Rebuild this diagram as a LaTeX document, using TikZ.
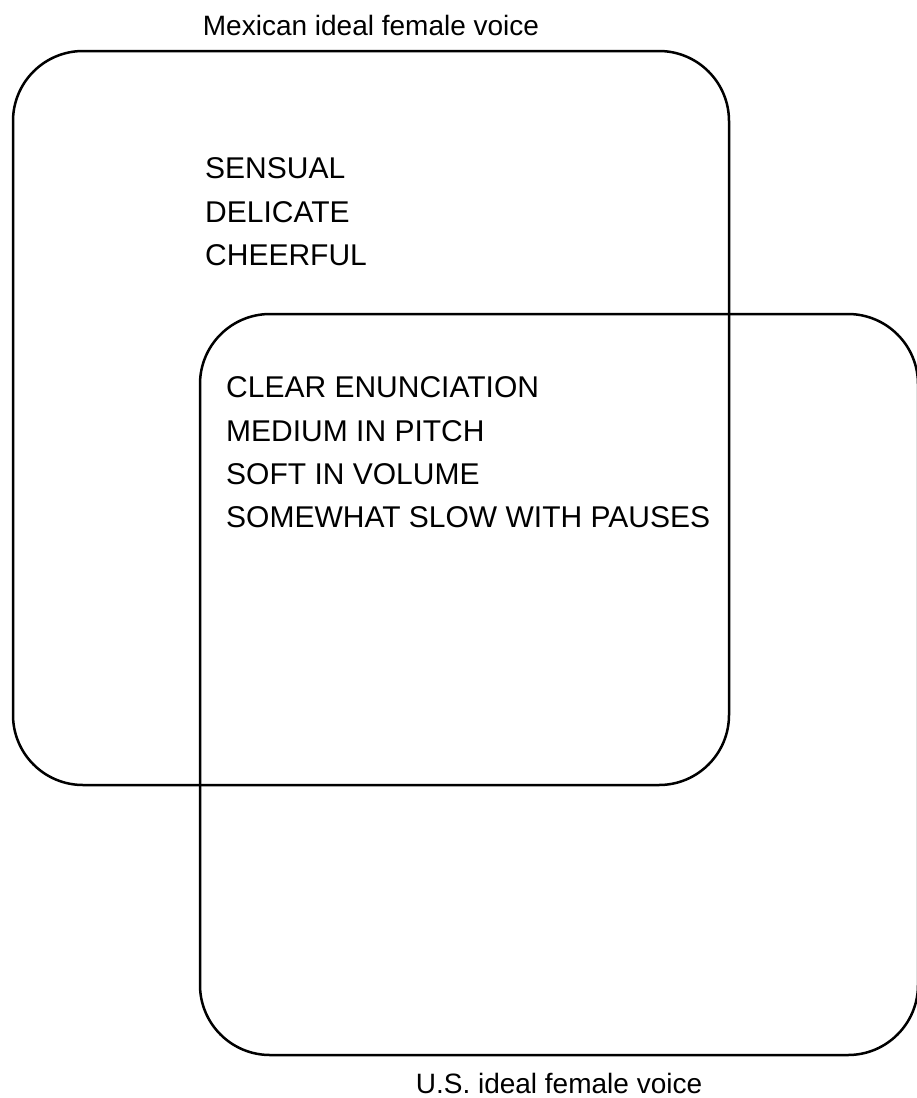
\documentclass[tikz,border=0pt]{standalone}
\usepackage{fontspec}
\setmainfont{Liberation Sans}
\usetikzlibrary{positioning}

\begin{document}
\begin{tikzpicture}[x=1pt, y=-1pt, node distance=21.5pt,
    voice/.style={draw, line width=2.5pt, rounded corners=70pt, inner sep=0pt},
    trait/.style={inner sep=0pt, text height=21.5pt, text depth=0pt,
                  font=\fontsize{30}{36}\selectfont},
    caption/.style={inner sep=0pt, font=\fontsize{28}{32}\selectfont}]
    \useasboundingbox (0,0) rectangle (917,1098);
    % the two voice regions
    \node[voice, minimum width=716pt, minimum height=734pt] (mex) at (371,418) {};
    \node[voice, minimum width=718pt, minimum height=741pt] (us) at (559,684.5) {};
    \node[caption, above=14pt of mex] (mexlabel) {Mexican ideal female voice};
    \node[caption, below=17pt of us] (uslabel) {U.S. ideal female voice};
    % Mexican only
    \node[trait, anchor=north west] (sensual) at (205,157) {SENSUAL};
    \node[trait, below=of sensual.south west, anchor=north west] (delicate) {DELICATE};
    \node[trait, below=of delicate.south west, anchor=north west] (cheerful) {CHEERFUL};
    % shared
    \node[trait, anchor=north west] (clear) at (226,376) {CLEAR ENUNCIATION};
    \node[trait, below=of clear.south west, anchor=north west] (pitch) {MEDIUM IN PITCH};
    \node[trait, below=of pitch.south west, anchor=north west] (volume) {SOFT IN VOLUME};
    \node[trait, below=of volume.south west, anchor=north west] (pauses) {SOMEWHAT SLOW WITH PAUSES};
\end{tikzpicture}
\end{document}
